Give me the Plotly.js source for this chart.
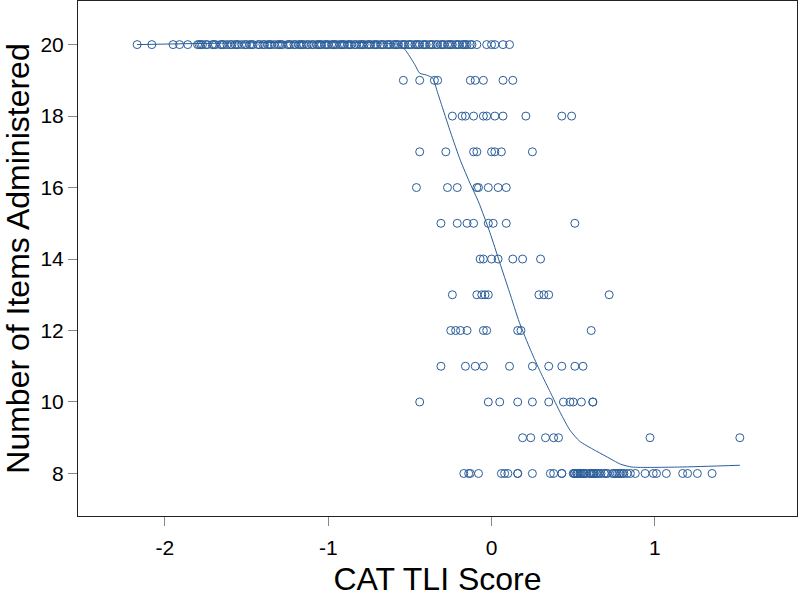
<!DOCTYPE html>
<html>
<head>
<meta charset="utf-8">
<script src="https://cdn.plot.ly/plotly-3.0.1.min.js"></script>
<style>
  html, body { margin: 0; padding: 0; background: #fff; }
  #grafico { width: 800px; height: 597px; }
</style>
</head>
<body>
<div id="grafico"></div>
<script>
// CAT TLI score for each examinee, grouped by number of items administered
let score20 = [-2.17, -2.08, -1.95, -1.91, -1.86, -1.80, -1.79, -1.78, -1.77, -1.75, -1.74, -1.71, -1.70,
  -1.69, -1.66, -1.65, -1.64, -1.62, -1.60, -1.59, -1.57, -1.56, -1.55, -1.53, -1.51, -1.50, -1.48,
  -1.47, -1.46, -1.43, -1.42, -1.40, -1.39, -1.37, -1.36, -1.35, -1.33, -1.31, -1.30, -1.29, -1.28,
  -1.25, -1.24, -1.23, -1.21, -1.20, -1.18, -1.17, -1.16, -1.15, -1.13, -1.12, -1.10, -1.09, -1.07,
  -1.06, -1.05, -1.04, -1.02, -1.01, -1.00, -0.98, -0.97, -0.96, -0.95, -0.93, -0.92, -0.91, -0.90,
  -0.88, -0.87, -0.86, -0.84, -0.83, -0.81, -0.80, -0.79, -0.78, -0.76, -0.75, -0.74, -0.72, -0.71,
  -0.70, -0.68, -0.67, -0.66, -0.64, -0.63, -0.62, -0.60, -0.59, -0.58, -0.57, -0.55, -0.54, -0.53,
  -0.51, -0.50, -0.49, -0.47, -0.46, -0.45, -0.44, -0.42, -0.41, -0.40, -0.38, -0.37, -0.36, -0.34,
  -0.33, -0.31, -0.30, -0.29, -0.27, -0.26, -0.25, -0.24, -0.22, -0.21, -0.20, -0.18, -0.17, -0.16,
  -0.15, -0.13, -0.12, -0.09, -0.03, 0.00, 0.02, 0.07, 0.11];
let score19 = [-0.54, -0.44, -0.35, -0.33, -0.13, -0.10, -0.05, 0.07, 0.13];
let score18 = [-0.24, -0.18, -0.16, -0.11, -0.05, -0.03, 0.02, 0.07, 0.21, 0.43, 0.49];
let score17 = [-0.44, -0.28, -0.11, -0.09, 0.00, 0.02, 0.06, 0.25];
let score16 = [-0.46, -0.27, -0.21, -0.09, -0.08, -0.02, 0.04, 0.09];
let score15 = [-0.31, -0.21, -0.15, -0.11, -0.02, 0.01, 0.09, 0.51];
let score14 = [-0.07, -0.05, 0.00, 0.04, 0.13, 0.19, 0.30];
let score13 = [-0.24, -0.09, -0.06, -0.04, -0.02, 0.29, 0.32, 0.35, 0.72];
let score12 = [-0.25, -0.22, -0.19, -0.15, -0.05, -0.03, 0.16, 0.18, 0.61];
let score11 = [-0.31, -0.16, -0.10, -0.05, 0.11, 0.25, 0.35, 0.43, 0.51, 0.56];
let score10 = [-0.44, -0.02, 0.05, 0.16, 0.25, 0.35, 0.44, 0.48, 0.50, 0.55, 0.62, 0.62];
let score9 = [0.19, 0.24, 0.33, 0.38, 0.41, 0.97, 1.52];
let score8 = [-0.17, -0.14, -0.13, -0.08, 0.06, 0.08, 0.10, 0.16, 0.16, 0.25, 0.36, 0.38, 0.43, 0.43,
  0.50, 0.505, 0.51, 0.52, 0.525, 0.53, 0.54, 0.545, 0.55, 0.56, 0.565, 0.57, 0.58, 0.60, 0.605, 0.61,
  0.62, 0.625, 0.63, 0.64, 0.65, 0.66, 0.67, 0.69, 0.70, 0.71, 0.74, 0.75, 0.76, 0.77, 0.78, 0.79,
  0.80, 0.81, 0.83, 0.85, 0.88, 0.94, 0.99, 1.01, 1.07, 1.17, 1.20, 1.26, 1.35];

// smoothed trend line
let trendX = [-2.17, -0.57, -0.53, -0.47, -0.44, -0.40, -0.36, -0.33, -0.30, -0.25, -0.19, -0.13, -0.08,
  -0.01, 0.05, 0.11, 0.17, 0.24, 0.30, 0.36, 0.42, 0.48, 0.54, 0.62, 0.70, 0.79, 0.86, 1.15, 1.52];
let trendY = [20.0, 20.0, 19.86, 19.44, 19.2, 19.15, 19.06, 18.65, 18.23, 17.53, 16.75, 16.1, 15.6,
  14.74, 13.9, 13.07, 12.23, 11.44, 10.83, 10.27, 9.71, 9.21, 8.9, 8.68, 8.48, 8.26, 8.18, 8.18, 8.23];

let itemCounts = [20, 19, 18, 17, 16, 15, 14, 13, 12, 11, 10, 9, 8];
let scoreRows = [score20, score19, score18, score17, score16, score15, score14, score13, score12,
  score11, score10, score9, score8];

let xTickVals = [-2, -1, 0, 1];
let yTickVals = [8, 10, 12, 14, 16, 18, 20];

let px = [], py = [];
scoreRows.forEach((row, i) => {
  row.forEach(v => { px.push(v); py.push(itemCounts[i]); });
});

let points = {
  x: px,
  y: py,
  mode: 'markers',
  type: 'scatter',
  marker: {
    symbol: 'circle-open',
    size: 8,
    color: '#2a5d9a',
    line: { width: 1, color: '#2a5d9a' }
  },
  hoverinfo: 'skip'
};

let trend = {
  x: trendX,
  y: trendY,
  mode: 'lines',
  type: 'scatter',
  line: { color: '#2a5d9a', width: 1, shape: 'spline', smoothing: 0.6 },
  hoverinfo: 'skip'
};

let axisFont = { family: 'Liberation Sans, Arial, sans-serif', size: 21, color: '#000' };
let titleFont = { family: 'Liberation Sans, Arial, sans-serif', size: 32, color: '#000' };

let layout = {
  width: 800,
  height: 597,
  showlegend: false,
  paper_bgcolor: '#fff',
  plot_bgcolor: '#fff',
  margin: { l: 78, r: 3, t: 1, b: 81 },
  xaxis: {
    range: [-2.532, 1.87],
    tickvals: xTickVals,
    ticktext: xTickVals.map(String),
    ticks: 'outside',
    ticklen: 9,
    tickcolor: '#888',
    ticklabelstandoff: 4,
    showgrid: false,
    zeroline: false,
    showline: true,
    mirror: true,
    linecolor: '#222',
    linewidth: 1,
    tickfont: axisFont,
    title: { text: 'CAT TLI Score', font: titleFont, standoff: 10 }
  },
  yaxis: {
    range: [6.81, 21.22],
    tickvals: yTickVals,
    ticks: 'outside',
    ticklen: 9,
    tickcolor: '#888',
    showgrid: false,
    zeroline: false,
    showline: true,
    mirror: true,
    linecolor: '#222',
    linewidth: 1,
    tickfont: axisFont,
    title: { text: 'Number of Items Administered', font: titleFont, standoff: 6 }
  }
};

Plotly.newPlot('grafico', [points, trend], layout, { staticPlot: true });
</script>
</body>
</html>
